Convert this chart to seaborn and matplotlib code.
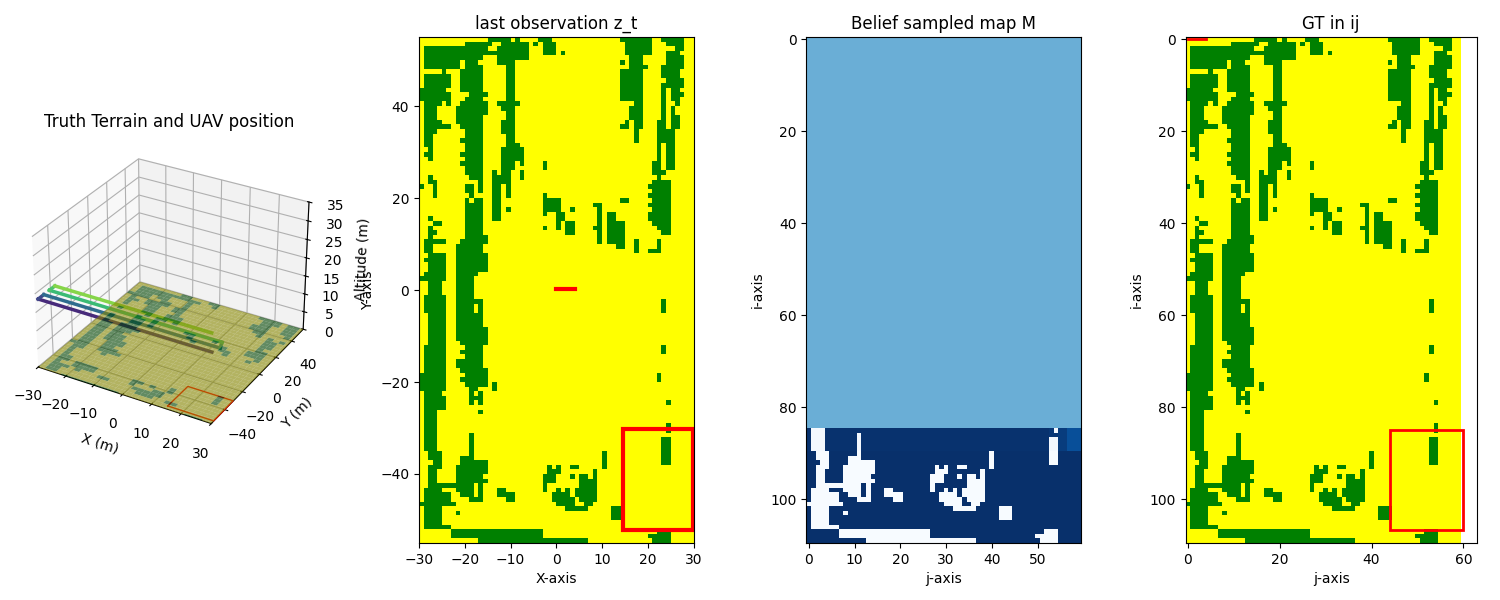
import numpy as np
import matplotlib
matplotlib.use("Agg")
import matplotlib.pyplot as plt
import seaborn as sns
from matplotlib.colors import ListedColormap, to_rgba
from matplotlib.patches import Rectangle

# green cells of the terrain, one list per row, (first col, end col)
TERRAIN_RUNS = [
    [(15,20),(21,22),(26,29),(44,51),(53,58)],
    [(10,16),(18,24),(25,26),(27,30),(45,51),(54,58)],
    [(1,15),(17,24),(27,30),(45,51),(56,58)],
    [(1,24),(27,30),(31,32),(45,51),(54,57)],
    [(1,14),(17,24),(46,49),(54,58)],
    [(1,9),(10,13),(17,21),(44,45),(46,49),(54,58)],
    [(1,9),(10,14),(19,21),(46,50),(53,58)],
    [(5,6),(9,14),(19,21),(44,49),(53,57)],
    [(1,7),(9,14),(19,21),(44,49),(53,57)],
    [(1,7),(9,14),(19,21),(44,49),(54,58)],
    [(1,7),(9,14),(19,21),(44,49),(53,58)],
    [(0,6),(9,14),(19,21),(44,49),(53,54),(55,57)],
    [(0,7),(11,15),(19,21),(44,49),(53,54),(55,58)],
    [(0,7),(10,14),(19,21),(44,49),(53,54),(55,57)],
    [(1,5),(6,7),(9,15),(17,22),(47,49),(53,54),(56,57)],
    [(1,4),(8,15),(18,21),(46,49),(53,54),(55,56)],
    [(1,4),(8,15),(19,21),(46,49),(53,54),(55,56)],
    [(1,4),(8,14),(19,21),(46,49),(53,54),(55,57)],
    [(1,5),(8,14),(18,21),(45,46),(47,49),(52,54),(55,57)],
    [(1,7),(9,14),(18,21),(44,46),(47,49),(52,54),(55,57)],
    [(1,4),(10,14),(18,21),(47,48),(52,56)],
    [(1,3),(10,14),(19,21),(47,48),(52,56)],
    [(1,3),(9,14),(19,21),(47,48),(52,56)],
    [(1,3),(10,14),(19,22),(52,53),(54,56)],
    [(2,3),(10,14),(18,23),(52,53),(54,56)],
    [(1,3),(9,14),(18,23),(52,53),(54,56)],
    [(2,3),(10,14),(18,23),(52,53),(54,56)],
    [(9,14),(18,21),(22,23),(27,28),(51,53),(54,56)],
    [(10,14),(18,21),(27,28),(51,53),(54,56)],
    [(10,14),(16,17),(18,20),(22,23),(51,54)],
    [(2,3),(11,14),(16,20),(22,23),(52,53)],
    [(2,4),(13,14),(16,20),(51,55)],
    [(0,1),(3,4),(10,12),(13,14),(16,18),(19,20),(50,55)],
    [(3,4),(10,12),(13,14),(16,18),(19,20),(51,55)],
    [(3,4),(11,12),(16,18),(19,20),(27,28),(50,55)],
    [(10,11),(12,14),(16,18),(27,31),(44,46),(51,55)],
    [(10,14),(16,18),(27,31),(38,40),(50,55)],
    [(10,14),(16,18),(19,20),(27,31),(33,34),(39,40),(51,55)],
    [(10,14),(16,18),(27,28),(30,32),(39,40),(41,43),(50,55)],
    [(2,3),(10,14),(16,18),(30,32),(39,40),(41,43),(50,55)],
    [(3,5),(10,14),(30,31),(32,34),(39,40),(41,45),(51,55)],
    [(2,3),(10,14),(27,28),(30,31),(32,34),(38,40),(41,45),(52,55)],
    [(2,4),(10,14),(32,34),(39,40),(41,45),(53,55)],
    [(2,3),(10,15),(39,40),(41,45)],
    [(1,6),(9,15),(39,40),(41,45),(47,48),(52,53)],
    [(1,3),(8,14),(43,45),(47,48),(52,53)],
    [(1,3),(8,14),(47,48),(50,53)],
    [(2,6),(8,15)],
    [(1,6),(8,15)],
    [(2,6),(8,15)],
    [(2,6),(8,15)],
    [(1,6),(8,13)],
    [(0,6),(8,12)],
    [(2,5),(8,12)],
    [(2,5),(8,12)],
    [(2,5),(8,12)],
    [(1,6),(8,12)],
    [(1,6),(8,14),(53,54)],
    [(1,6),(8,12),(13,14),(53,54)],
    [(1,6),(8,12),(13,14),(53,54)],
    [(2,6),(8,14)],
    [(2,6),(8,14)],
    [(2,6),(8,14)],
    [(2,6),(8,15)],
    [(2,6),(8,15)],
    [(2,6),(8,15)],
    [(2,6),(9,15)],
    [(1,6),(10,14),(53,54)],
    [(1,6),(9,14),(53,54)],
    [(1,6),(10,14)],
    [(1,6),(8,14)],
    [(1,6),(8,14)],
    [(1,6),(9,15)],
    [(0,6),(10,15),(52,53)],
    [(0,6),(9,15),(52,53)],
    [(0,6),(10,15),(16,17)],
    [(0,6),(11,13),(16,17)],
    [(1,5),(11,12),(13,14)],
    [(1,6),(11,14)],
    [(1,6),(11,12),(13,14),(54,55)],
    [(1,6)],
    [(1,4),(13,14)],
    [(1,4)],
    [(1,4)],
    [(1,4),(54,55)],
    [(1,4),(54,55)],
    [(1,4),(11,12)],
    [(1,4),(11,12),(53,55)],
    [(1,4),(11,12),(53,55)],
    [(1,4),(11,12),(53,55)],
    [(2,5),(11,12),(40,41),(53,55)],
    [(2,5),(9,12),(40,41),(53,55)],
    [(3,5),(9,15),(40,41),(53,55)],
    [(2,5),(8,15),(28,29),(30,31),(33,35),(40,41)],
    [(2,4),(8,15),(28,31),(38,39)],
    [(2,4),(8,14),(27,30),(33,34),(35,37),(38,39)],
    [(2,4),(8,15),(27,30),(35,39)],
    [(2,12),(13,14),(27,28),(35,39)],
    [(1,5),(8,12),(13,14),(17,19),(27,28),(30,31),(32,33),(34,39)],
    [(1,7),(9,12),(13,14),(17,21),(29,33),(34,39)],
    [(1,7),(11,14),(19,21),(29,34),(35,39)],
    [(0,8),(30,34),(36,38)],
    [(1,5),(32,37),(42,45)],
    [(1,5),(8,9),(42,45)],
    [(1,5),(42,45)],
    [(1,5)],
    [(1,7)],
    [(7,27),(52,55)],
    [(7,27),(50,55)],
    [(13,37),(51,55)],
]

# belief map: unknown level, first observed row, confidence on the newest rows
UNKNOWN_LEVEL = 0.5
OBSERVED_FROM = 85
FRESH_ROWS = 5
FRESH_COLS = [(0,53,0.99),(53,55,0.97),(55,57,0.95),(57,60,0.88)]

# UAV path as flown, (x, y, altitude) per waypoint
PATH_X = [29, -30, -30, 30, 29, -30, -30, 24]
PATH_Y = [-52, -52, -46.5, -46.5, -41, -41, -35.5, -35.5]
PATH_Z = [18, 18, 18, 18, 18, 18, 18, 18]
PATH_COLORS = [0.12, 0.22, 0.35, 0.5, 0.68, 0.72, 0.82]

# footprint and UAV marks
FOOT_X = [14.6, 29.9]
FOOT_Y = [-52.2, -30.3]
FOOT_J = [44, 60]
FOOT_I = [84.9, 106.7]
UAV_X = [0, 4]
UAV_Y = [0.2, 0.2]
UAV_J = [0, 4]
UAV_I = [0, 0]

XY_TICKS = [-30, -20, -10, 0, 10, 20, 30]
Y_TICKS = [-40, -20, 0, 20, 40]
J_TICKS = [0, 10, 20, 30, 40, 50]
I_TICKS = [0, 20, 40, 60, 80, 100]
GT_J_TICKS = [0, 20, 40, 60]

FW, FH = 1500, 600


def box(left, right, top, bottom):
    return [left / FW, 1 - bottom / FH, (right - left) / FW, (bottom - top) / FH]


def show_frame(ax):
    for s in ax.spines.values():
        s.set_visible(True)


terrain = np.zeros((110, 60))
for r, runs in enumerate(TERRAIN_RUNS):
    for a, b in runs:
        terrain[r, a:b] = 1

belief = 1 - terrain
belief[:OBSERVED_FROM] = UNKNOWN_LEVEL
for a, b, level in FRESH_COLS:
    fresh = belief[OBSERVED_FROM:OBSERVED_FROM + FRESH_ROWS, a:b]
    fresh[fresh > 0.9] = level
    fresh[fresh == 0] = 0.02

fig = plt.figure(figsize=(15, 6), dpi=100)
terrain_cmap = ListedColormap(["yellow", "green"])

# ----------------------
# 3D view
# ----------------------
ax3d = fig.add_axes(box(15, 323, 135, 443), projection="3d")
xs = np.linspace(-30, 30, 60)
ys = np.linspace(55, -55, 110)
X, Y = np.meshgrid(xs, ys)
cols = np.empty(terrain.shape + (4,))
cols[terrain == 0] = to_rgba("yellow", 0.6)
cols[terrain == 1] = to_rgba("green", 0.6)
ax3d.plot_surface(X, Y, np.zeros_like(X), facecolors=cols, linewidth=0)

for i, c in enumerate(PATH_COLORS):
    ax3d.plot(PATH_X[i:i + 2], PATH_Y[i:i + 2], PATH_Z[i:i + 2],
              color=plt.cm.viridis(c), linewidth=2.5)

fx = [FOOT_X[0], FOOT_X[1], FOOT_X[1], FOOT_X[0], FOOT_X[0]]
fy = [FOOT_Y[0], FOOT_Y[0], FOOT_Y[1], FOOT_Y[1], FOOT_Y[0]]
ax3d.plot(fx, fy, [0] * 5, color="red", linewidth=1)

ax3d.set_xlim(-30, 30)
ax3d.set_ylim(-55, 55)
ax3d.set_zlim(0, 35)
ax3d.set_xlabel("X (m)")
ax3d.set_ylabel("Y (m)")
ax3d.set_zlabel("Altitude (m)")
ax3d.set_title("Truth Terrain and UAV position")

# ----------------------
# last observation
# ----------------------
ax = fig.add_axes(box(419, 693.5, 37, 543))
sns.heatmap(terrain, ax=ax, cmap=terrain_cmap, vmin=0, vmax=1, cbar=False,
            xticklabels=False, yticklabels=False)
show_frame(ax)
ax.set_xticks([x + 30 for x in XY_TICKS], labels=[str(x).replace("-", "\u2212") for x in XY_TICKS])
ax.set_yticks([55 - y for y in Y_TICKS], labels=[str(y).replace("-", "\u2212") for y in Y_TICKS], rotation=0)
ax.plot([x + 30 for x in UAV_X], [55 - y for y in UAV_Y], color="red", linewidth=3,
        solid_capstyle="projecting")
ax.add_patch(Rectangle((FOOT_X[0] + 30, 55 - FOOT_Y[1]), FOOT_X[1] - FOOT_X[0], FOOT_Y[1] - FOOT_Y[0],
                       fill=False, edgecolor="red", linewidth=3))
ax.set_xlabel("X-axis")
ax.set_ylabel("Y-axis")
ax.set_title("last observation z_t")

# ----------------------
# belief map
# ----------------------
ax = fig.add_axes(box(806.5, 1081, 37, 543))
sns.heatmap(belief, ax=ax, cmap="Blues", vmin=0, vmax=1, cbar=False,
            xticklabels=False, yticklabels=False)
show_frame(ax)
ax.set_xticks([j + 0.5 for j in J_TICKS], labels=J_TICKS)
ax.set_yticks([i + 0.5 for i in I_TICKS], labels=I_TICKS, rotation=0)
ax.set_xlabel("j-axis")
ax.set_ylabel("i-axis")
ax.set_title("Belief sampled map M")

# ----------------------
# ground truth
# ----------------------
ax = fig.add_axes(box(1185.5, 1476.7, 37, 543))
sns.heatmap(terrain, ax=ax, cmap=terrain_cmap, vmin=0, vmax=1, cbar=False,
            xticklabels=False, yticklabels=False)
show_frame(ax)
ax.set_xlim(0, 63.4)
ax.set_xticks([j + 0.5 for j in GT_J_TICKS], labels=GT_J_TICKS)
ax.set_yticks([i + 0.5 for i in I_TICKS], labels=I_TICKS, rotation=0)
ax.plot([j + 0.5 for j in UAV_J], [i + 0.5 for i in UAV_I], color="red", linewidth=2,
        solid_capstyle="projecting")
ax.add_patch(Rectangle((FOOT_J[0] + 0.5, FOOT_I[0] + 0.5), FOOT_J[1] - FOOT_J[0], FOOT_I[1] - FOOT_I[0],
                       fill=False, edgecolor="red", linewidth=2))
ax.set_xlabel("j-axis")
ax.set_ylabel("i-axis")
ax.set_title("GT in ij")

fig.savefig("out.png", dpi=100)
